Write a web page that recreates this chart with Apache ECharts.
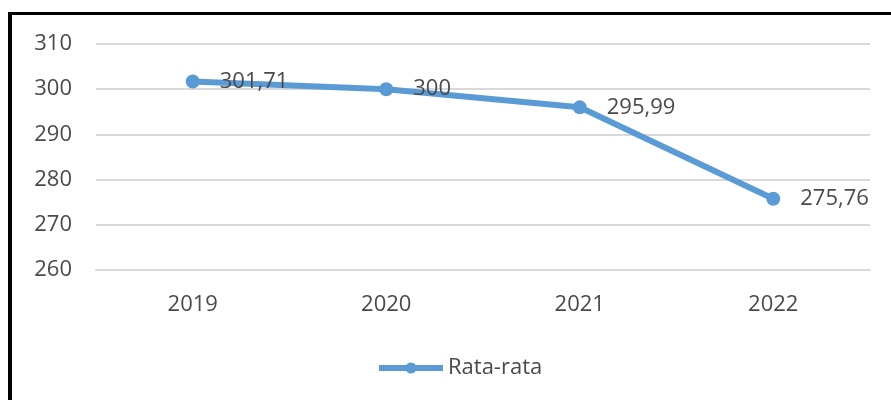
<!DOCTYPE html>
<html>
<head>
<meta charset="utf-8">
<script src="https://cdn.jsdelivr.net/npm/echarts@6/dist/echarts.min.js"></script>
<style>
  html, body { margin: 0; padding: 0; background: #fff; }
  #main { width: 891px; height: 400px; }
  #frame {
    position: absolute; left: 8px; top: 12px; width: 883px; height: 388px;
    border-left: 4px solid #000; border-top: 3px solid #000;
    box-sizing: border-box; pointer-events: none;
  }
</style>
</head>
<body>
<div id="main"></div>
<div id="frame"></div>
<script>
var years = ['2019', '2020', '2021', '2022'];
var rataRata = [301.71, 300, 295.99, 275.76];
var yTicks = { min: 260, max: 310, interval: 10 };

var textColor = '#4a4a4a';
var fontFamily = '"Open Sans", sans-serif';
var fontSize = 22;

var option = {
  animation: false,
  grid: { left: 96, right: 21, top: 44, bottom: 130 },
  legend: {
    data: ['Rata-rata'],
    left: 371,
    top: 352,
    itemWidth: 64,
    itemHeight: 14,
    itemGap: 6,
    lineStyle: { width: 6 },
    textStyle: { color: textColor, fontSize: fontSize, fontFamily: fontFamily }
  },
  xAxis: {
    type: 'category',
    data: years,
    boundaryGap: true,
    axisLine: { show: true, lineStyle: { color: '#D9D9D9', width: 2 } },
    axisTick: { show: false },
    axisLabel: { color: textColor, fontSize: fontSize, fontFamily: fontFamily, margin: 24 }
  },
  yAxis: {
    type: 'value',
    min: yTicks.min,
    max: yTicks.max,
    interval: yTicks.interval,
    axisLine: { show: false },
    axisTick: { show: false },
    axisLabel: { color: textColor, fontSize: fontSize, fontFamily: fontFamily, margin: 24 },
    splitLine: { lineStyle: { color: '#D9D9D9', width: 2 } }
  },
  series: [{
    name: 'Rata-rata',
    type: 'line',
    data: rataRata,
    symbol: 'circle',
    symbolSize: 14,
    color: '#5B9BD5',
    lineStyle: { width: 6, color: '#5B9BD5' },
    itemStyle: { color: '#5B9BD5' },
    label: {
      show: true,
      position: 'right',
      distance: 20,
      color: textColor,
      fontSize: fontSize,
      fontFamily: fontFamily,
      formatter: function (p) { return String(p.value).replace('.', ','); }
    }
  }]
};

var chart = echarts.init(document.getElementById('main'));
chart.setOption(option);
</script>
</body>
</html>
